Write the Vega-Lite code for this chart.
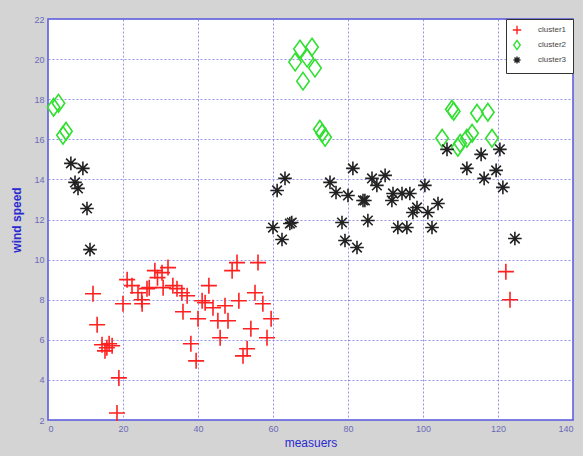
{
  "$schema": "https://vega.github.io/schema/vega-lite/v6.json",
  "autosize": "none",
  "width": 525,
  "height": 401,
  "padding": {"left": 48, "top": 19, "right": 10, "bottom": 36},
  "background": "#d4d4d4",
  "config": {
    "view": {"fill": "white", "stroke": "#5555dd", "strokeWidth": 1.5},
    "axis": {
      "grid": true,
      "gridColor": "#7777e0",
      "gridDash": [2, 2],
      "gridWidth": 1,
      "gridOpacity": 0.8,
      "domain": false,
      "ticks": false,
      "labelColor": "#6a6ab8",
      "labelFont": "Liberation Sans",
      "labelFontSize": 9,
      "titleColor": "#2a2ad0",
      "titleFont": "Liberation Sans",
      "titleFontSize": 12,
      "titleFontWeight": "normal"
    }
  },
  "data": {
    "values": [
      {"x": 12, "y": 8.3, "c": "cluster1"},
      {"x": 13.1, "y": 6.75, "c": "cluster1"},
      {"x": 14.4, "y": 5.75, "c": "cluster1"},
      {"x": 15.7, "y": 5.6, "c": "cluster1"},
      {"x": 17.1, "y": 5.7, "c": "cluster1"},
      {"x": 15.2, "y": 5.45, "c": "cluster1"},
      {"x": 16.3, "y": 5.8, "c": "cluster1"},
      {"x": 20, "y": 7.8, "c": "cluster1"},
      {"x": 18.9, "y": 4.1, "c": "cluster1"},
      {"x": 18.4, "y": 2.35, "c": "cluster1"},
      {"x": 21.1, "y": 9.0, "c": "cluster1"},
      {"x": 22.4, "y": 8.7, "c": "cluster1"},
      {"x": 24, "y": 8.35, "c": "cluster1"},
      {"x": 25.1, "y": 7.8, "c": "cluster1"},
      {"x": 25, "y": 8.0, "c": "cluster1"},
      {"x": 26.4, "y": 8.55, "c": "cluster1"},
      {"x": 27, "y": 8.6, "c": "cluster1"},
      {"x": 28.5, "y": 9.45, "c": "cluster1"},
      {"x": 29.2, "y": 9.1, "c": "cluster1"},
      {"x": 30.4, "y": 9.35, "c": "cluster1"},
      {"x": 32, "y": 9.6, "c": "cluster1"},
      {"x": 30.7, "y": 8.6, "c": "cluster1"},
      {"x": 33.3, "y": 8.7, "c": "cluster1"},
      {"x": 34.4, "y": 8.55, "c": "cluster1"},
      {"x": 35.7, "y": 8.35, "c": "cluster1"},
      {"x": 37.1, "y": 8.2, "c": "cluster1"},
      {"x": 36, "y": 7.4, "c": "cluster1"},
      {"x": 38.1, "y": 5.8, "c": "cluster1"},
      {"x": 39.5, "y": 4.95, "c": "cluster1"},
      {"x": 40, "y": 7.05, "c": "cluster1"},
      {"x": 41.1, "y": 7.95, "c": "cluster1"},
      {"x": 41.9, "y": 7.85, "c": "cluster1"},
      {"x": 42.9, "y": 8.7, "c": "cluster1"},
      {"x": 44, "y": 7.6, "c": "cluster1"},
      {"x": 45.3, "y": 6.95, "c": "cluster1"},
      {"x": 45.9, "y": 6.1, "c": "cluster1"},
      {"x": 47.2, "y": 7.7, "c": "cluster1"},
      {"x": 48, "y": 6.95, "c": "cluster1"},
      {"x": 49.1, "y": 9.45, "c": "cluster1"},
      {"x": 50.4, "y": 9.85, "c": "cluster1"},
      {"x": 50.9, "y": 7.95, "c": "cluster1"},
      {"x": 52, "y": 5.2, "c": "cluster1"},
      {"x": 53.1, "y": 5.55, "c": "cluster1"},
      {"x": 54.1, "y": 6.55, "c": "cluster1"},
      {"x": 55.2, "y": 8.35, "c": "cluster1"},
      {"x": 56, "y": 9.85, "c": "cluster1"},
      {"x": 57.3, "y": 7.8, "c": "cluster1"},
      {"x": 58.4, "y": 6.1, "c": "cluster1"},
      {"x": 59.5, "y": 7.05, "c": "cluster1"},
      {"x": 122.1, "y": 9.4, "c": "cluster1"},
      {"x": 123.2, "y": 8.0, "c": "cluster1"},
      {"x": 1.5, "y": 17.6, "c": "cluster2"},
      {"x": 2.8, "y": 17.8, "c": "cluster2"},
      {"x": 4, "y": 16.2, "c": "cluster2"},
      {"x": 4.8, "y": 16.4, "c": "cluster2"},
      {"x": 67.2, "y": 20.5, "c": "cluster2"},
      {"x": 70.4, "y": 20.6, "c": "cluster2"},
      {"x": 65.9, "y": 19.85, "c": "cluster2"},
      {"x": 69.1, "y": 20.05, "c": "cluster2"},
      {"x": 71.2, "y": 19.55, "c": "cluster2"},
      {"x": 68, "y": 18.9, "c": "cluster2"},
      {"x": 72.5, "y": 16.5, "c": "cluster2"},
      {"x": 73.1, "y": 16.3, "c": "cluster2"},
      {"x": 73.9, "y": 16.1, "c": "cluster2"},
      {"x": 107.7, "y": 17.5, "c": "cluster2"},
      {"x": 108.2, "y": 17.4, "c": "cluster2"},
      {"x": 114.4, "y": 17.3, "c": "cluster2"},
      {"x": 117.3, "y": 17.35, "c": "cluster2"},
      {"x": 105.1, "y": 16.05, "c": "cluster2"},
      {"x": 109.9, "y": 15.8, "c": "cluster2"},
      {"x": 111.7, "y": 16.05, "c": "cluster2"},
      {"x": 113.1, "y": 16.3, "c": "cluster2"},
      {"x": 109.3, "y": 15.6, "c": "cluster2"},
      {"x": 118.4, "y": 16.05, "c": "cluster2"},
      {"x": 6.1, "y": 14.8, "c": "cluster3"},
      {"x": 9.3, "y": 14.55, "c": "cluster3"},
      {"x": 7.2, "y": 13.85, "c": "cluster3"},
      {"x": 8, "y": 13.55, "c": "cluster3"},
      {"x": 10.4, "y": 12.55, "c": "cluster3"},
      {"x": 11.2, "y": 10.5, "c": "cluster3"},
      {"x": 63.2, "y": 14.05, "c": "cluster3"},
      {"x": 61.1, "y": 13.45, "c": "cluster3"},
      {"x": 60, "y": 11.6, "c": "cluster3"},
      {"x": 64.5, "y": 11.8, "c": "cluster3"},
      {"x": 65, "y": 11.85, "c": "cluster3"},
      {"x": 62.4, "y": 11.0, "c": "cluster3"},
      {"x": 81.3, "y": 14.55, "c": "cluster3"},
      {"x": 75.2, "y": 13.85, "c": "cluster3"},
      {"x": 76.8, "y": 13.35, "c": "cluster3"},
      {"x": 80, "y": 13.2, "c": "cluster3"},
      {"x": 84, "y": 12.95, "c": "cluster3"},
      {"x": 78.4, "y": 11.85, "c": "cluster3"},
      {"x": 79.2, "y": 10.95, "c": "cluster3"},
      {"x": 82.4, "y": 10.6, "c": "cluster3"},
      {"x": 86.4, "y": 14.05, "c": "cluster3"},
      {"x": 87.7, "y": 13.7, "c": "cluster3"},
      {"x": 89.9, "y": 14.2, "c": "cluster3"},
      {"x": 84.5, "y": 12.95, "c": "cluster3"},
      {"x": 92, "y": 13.3, "c": "cluster3"},
      {"x": 91.7, "y": 12.95, "c": "cluster3"},
      {"x": 94.4, "y": 13.3, "c": "cluster3"},
      {"x": 96.5, "y": 13.3, "c": "cluster3"},
      {"x": 100.5, "y": 13.7, "c": "cluster3"},
      {"x": 98.4, "y": 12.6, "c": "cluster3"},
      {"x": 97.3, "y": 12.35, "c": "cluster3"},
      {"x": 101.3, "y": 12.35, "c": "cluster3"},
      {"x": 104, "y": 12.8, "c": "cluster3"},
      {"x": 85.3, "y": 11.95, "c": "cluster3"},
      {"x": 93.3, "y": 11.6, "c": "cluster3"},
      {"x": 95.7, "y": 11.6, "c": "cluster3"},
      {"x": 102.4, "y": 11.6, "c": "cluster3"},
      {"x": 111.7, "y": 14.55, "c": "cluster3"},
      {"x": 106.4, "y": 15.5, "c": "cluster3"},
      {"x": 115.5, "y": 15.25, "c": "cluster3"},
      {"x": 120.5, "y": 15.5, "c": "cluster3"},
      {"x": 119.5, "y": 14.45, "c": "cluster3"},
      {"x": 116.3, "y": 14.05, "c": "cluster3"},
      {"x": 121.3, "y": 13.6, "c": "cluster3"},
      {"x": 124.5, "y": 11.05, "c": "cluster3"}
    ]
  },
  "mark": {"type": "point", "filled": false, "strokeWidth": 1.6, "opacity": 1, "size": 256},
  "encoding": {
    "x": {"field": "x", "type": "quantitative", "scale": {"domain": [0, 140], "nice": false}, "axis": {"values": [0, 20, 40, 60, 80, 100, 120, 140], "title": "measuers", "titlePadding": 4, "labelPadding": 4}},
    "y": {"field": "y", "type": "quantitative", "scale": {"domain": [2, 22], "nice": false, "zero": false}, "axis": {"values": [2, 4, 6, 8, 10, 12, 14, 16, 18, 20, 22], "title": "wind speed", "titlePadding": 10, "labelPadding": 4, "titleFontWeight": "bold"}},
    "stroke": {
      "field": "c", "type": "nominal",
      "scale": {"domain": ["cluster1", "cluster2", "cluster3"], "range": ["#ff2020", "#30e030", "#222222"]},
      "legend": {"title": null, "orient": "top-right", "offset": 0, "fillColor": "white", "strokeColor": "#333333", "padding": 6, "labelFontSize": 8, "labelColor": "#444444", "labelOffset": 16, "symbolSize": 70, "symbolStrokeWidth": 1.4, "rowPadding": 0}
    },
    "shape": {
      "field": "c", "type": "nominal",
      "scale": {"domain": ["cluster1", "cluster2", "cluster3"], "range": ["M-1,0L1,0M0,-1L0,1", "M0,-1.1L0.78,0L0,1.1L-0.78,0Z", "M-0.85,0L0.85,0M0,-0.85L0,0.85M-0.6,-0.6L0.6,0.6M-0.6,0.6L0.6,-0.6"]}
    }
  }
}
